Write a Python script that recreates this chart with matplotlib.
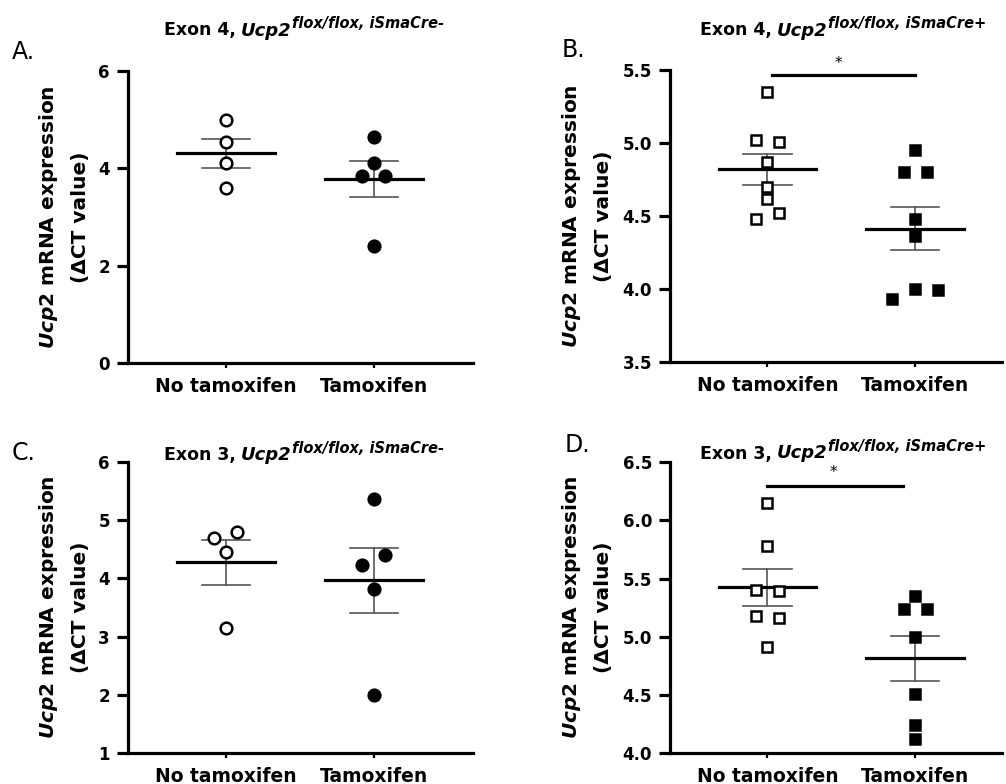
import numpy as np
import matplotlib
matplotlib.use("Agg")
import matplotlib.pyplot as plt

plt.rcParams['font.family'] = 'DejaVu Sans'
plt.rcParams['mathtext.fontset'] = 'custom'
plt.rcParams['mathtext.it'] = 'DejaVu Sans:italic:bold'
plt.rcParams['mathtext.rm'] = 'DejaVu Sans:bold'
plt.rcParams['mathtext.bf'] = 'DejaVu Sans:bold'

groups = ['No tamoxifen', 'Tamoxifen']

# delta CT values (order within a row = left to right)
a_no_tam = [4.99, 4.55, 4.11, 3.59]
a_tam = [4.64, 4.11, 3.85, 3.85, 2.41]
b_no_tam = [5.35, 5.02, 5.01, 4.87, 4.70, 4.62, 4.48, 4.52]
b_tam = [4.95, 4.80, 4.80, 4.48, 4.36, 3.93, 4.00, 3.99]
c_no_tam = [4.70, 4.80, 4.46, 3.15]
c_tam = [5.37, 4.24, 4.41, 3.81, 2.00]
d_no_tam = [6.15, 5.78, 5.40, 5.39, 5.18, 5.16, 4.91]
d_tam = [5.35, 5.24, 5.24, 5.00, 4.51, 4.24, 4.12]

W, H = 1006, 784
fig = plt.figure(figsize=(W / 100, H / 100), dpi=100)


def px_axes(left, top, right, bottom):
    return fig.add_axes([left / W, 1 - bottom / H, (right - left) / W, (bottom - top) / H])


# spread points that share a row, like a column scatter
def swarm(ax, vals, center, step_px=23.0, row_px=11.0):
    pos = ax.get_position()
    x0, x1 = ax.get_xlim()
    y0, y1 = ax.get_ylim()
    sx = pos.width * W / (x1 - x0)
    sy = pos.height * H / (y1 - y0)
    order = sorted(range(len(vals)), key=lambda i: -vals[i])
    rows = []
    for i in order:
        if rows and (vals[rows[-1][0]] - vals[i]) * sy < row_px:
            rows[-1].append(i)
        else:
            rows.append([i])
    xs = np.zeros(len(vals))
    for row in rows:
        row = sorted(row)
        n = len(row)
        for k, i in enumerate(row):
            xs[i] = center + (k - (n - 1) / 2) * step_px / sx
    return xs


def panel(ax, no_vals, tam_vals, ylim, yticks, xlim, marker, ms, ylab_x, fmt):
    ax.set_xlim(xlim)
    ax.set_ylim(ylim)
    for spine in ['top', 'right']:
        ax.spines[spine].set_visible(False)
    for spine in ['left', 'bottom']:
        ax.spines[spine].set_linewidth(2.3)
    ax.set_yticks(yticks)
    ax.set_yticklabels([fmt % t for t in yticks])
    ax.set_xticks([0, 1])
    ax.set_xticklabels(groups, fontsize=13.5, fontweight='bold')
    ax.tick_params(axis='y', length=8, width=2.3, pad=5, labelsize=12)
    ax.tick_params(axis='x', length=3.5, width=1.6, pad=6.5)
    for lab in ax.get_yticklabels():
        lab.set_fontweight('bold')

    for k, vals in enumerate([no_vals, tam_vals]):
        v = np.array(vals)
        m = v.mean()
        sem = v.std(ddof=1) / np.sqrt(len(v))
        ax.plot([k, k], [m - sem, m + sem], color='#555555', lw=1.2, zorder=2)
        ax.plot([k - 0.165, k + 0.165], [m + sem] * 2, color='#555555', lw=1.2, zorder=2)
        ax.plot([k - 0.165, k + 0.165], [m - sem] * 2, color='#555555', lw=1.2, zorder=2)
        ax.plot([k - 0.33, k + 0.33], [m, m], color='black', lw=2.3, zorder=3)
        xs = swarm(ax, vals, k)
        face = 'white' if k == 0 else 'black'
        ax.plot(xs, v, linestyle='none', marker=marker, ms=ms, mfc=face, mec='black',
                mew=1.8, zorder=4, clip_on=False)

    ax.yaxis.set_label_coords(ylab_x, 0.5)
    ax.set_ylabel('$\\mathit{Ucp2}$ mRNA expression\n(\u0394CT value)',
                  fontsize=14.5, fontweight='bold', linespacing=1.75)


ax_a = px_axes(128, 71, 473, 363)
ax_b = px_axes(670, 70.3, 1002, 361.7)
ax_c = px_axes(128, 462.3, 473, 752.7)
ax_d = px_axes(670, 462.3, 1002, 753)

panel(ax_a, a_no_tam, a_tam, (0, 6), [0, 2, 4, 6], (-0.662, 1.669), 'o', 8.4, -0.11, '%d')
panel(ax_b, b_no_tam, b_tam, (3.5, 5.5), [3.5, 4.0, 4.5, 5.0, 5.5], (-0.659, 1.589), 's', 7.8, -0.172, '%.1f')
panel(ax_c, c_no_tam, c_tam, (1, 6), [1, 2, 3, 4, 5, 6], (-0.662, 1.669), 'o', 8.4, -0.11, '%d')
panel(ax_d, d_no_tam, d_tam, (4.0, 6.5), [4.0, 4.5, 5.0, 5.5, 6.0, 6.5], (-0.659, 1.589), 's', 7.8, -0.172, '%.1f')

# significance bars
ax_b.plot([0.03, 1.0], [5.466, 5.466], color='black', lw=2.3, clip_on=False)
ax_b.text(0.48, 5.545, '*', ha='center', va='center', fontsize=11)
ax_d.plot([0.0, 0.92], [6.30, 6.30], color='black', lw=2.3, clip_on=False)
ax_d.text(0.445, 6.41, '*', ha='center', va='center', fontsize=11)

# titles built from pieces: plain, italic gene name, raised italic genotype
renderer = fig.canvas.get_renderer()


def title(xc, y_base, exon, cre):
    parts = [('Exon %s,' % exon, 12.5, 'normal', 0, 5),
             ('Ucp2', 13, 'italic', 0, 0),
             ('flox/flox, iSmaCre%s' % cre, 10.5, 'italic', 7, 0)]
    texts, widths = [], []
    for s, size, style, rise, gap in parts:
        t = fig.text(0, 1 - (y_base - rise) / H, s, fontsize=size, style=style,
                     fontweight='bold', ha='left', va='baseline')
        texts.append(t)
        widths.append(t.get_window_extent(renderer).width + gap)
    x = xc - sum(widths) / 2
    for t, w in zip(texts, widths):
        t.set_x(x / W)
        x += w


title(304, 35.5, '4', '-')
title(843, 35.5, '4', '+')
title(304, 460, '3', '-')
title(843, 458.5, '3', '+')

# panel letters
for letter, x, y in [('A.', 12, 59), ('B.', 562, 57), ('C.', 12, 460), ('D.', 565, 452)]:
    fig.text(x / W, 1 - y / H, letter, ha='left', va='baseline', fontsize=17)

fig.savefig('out.png', dpi=100)
